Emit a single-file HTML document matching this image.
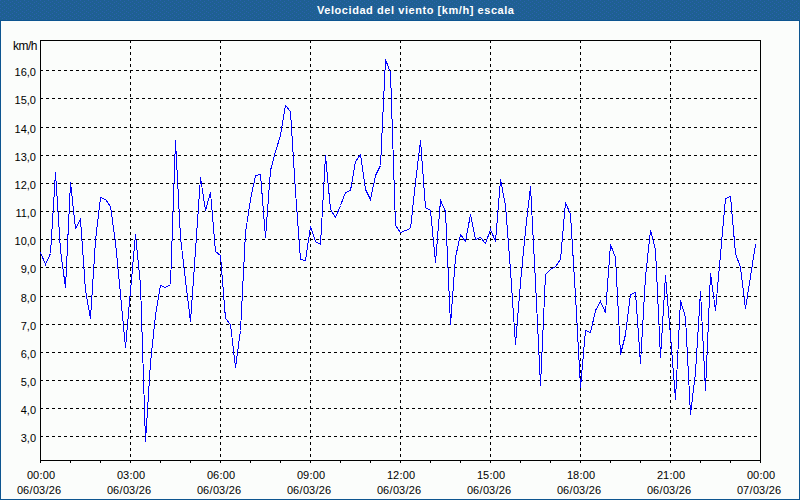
<!DOCTYPE html>
<html><head><meta charset="utf-8"><style>
html,body{margin:0;padding:0;}
body{width:800px;height:500px;position:relative;overflow:hidden;background:#fbfdfb;font-family:"Liberation Sans",sans-serif;}
#hdrline{position:absolute;left:0;top:20px;width:800px;height:1px;background:#0d5590;}
#ttl{position:absolute;left:317px;top:0;height:20px;line-height:20px;white-space:nowrap;color:#fff;font-weight:bold;font-size:11px;letter-spacing:0.56px;}
#frame{position:absolute;left:0;top:21px;width:798px;height:478px;border:1px solid #0d5590;border-top:none;}
svg{position:absolute;left:0;top:0;}
.yl{position:absolute;left:0;width:36px;text-align:right;font-size:11px;line-height:16px;color:#000;}
.xl{position:absolute;top:468px;width:80px;text-align:center;font-size:11px;line-height:15px;color:#000;}
.p{margin:0 0.3px;}
#unit{position:absolute;left:0;top:38px;width:37px;text-align:right;font-size:12px;letter-spacing:-0.5px;line-height:16px;color:#000;}
</style></head><body>
<svg id="hdrsvg" width="800" height="20" style="position:absolute;left:0;top:0"><defs><pattern id="dp" width="8" height="4" patternUnits="userSpaceOnUse"><rect width="8" height="4" fill="#1e6092"/><rect x="0" y="0" width="1" height="1" fill="#2a60ae"/><rect x="4" y="1" width="1" height="1" fill="#2a60ae"/><rect x="2" y="2" width="1" height="1" fill="#2a60ae"/><rect x="6" y="3" width="1" height="1" fill="#2a60ae"/></pattern></defs><rect width="800" height="20" fill="url(#dp)"/></svg><div id="hdrline"></div><div id="ttl">Velocidad del viento [km/h] escala</div>
<div id="frame"></div>
<svg width="800" height="500" shape-rendering="crispEdges">
<line x1="40" y1="70.5" x2="760" y2="70.5" stroke="#000" stroke-dasharray="3 3"/>
<line x1="40" y1="98.5" x2="760" y2="98.5" stroke="#000" stroke-dasharray="3 3"/>
<line x1="40" y1="127.5" x2="760" y2="127.5" stroke="#000" stroke-dasharray="3 3"/>
<line x1="40" y1="155.5" x2="760" y2="155.5" stroke="#000" stroke-dasharray="3 3"/>
<line x1="40" y1="183.5" x2="760" y2="183.5" stroke="#000" stroke-dasharray="3 3"/>
<line x1="40" y1="211.5" x2="760" y2="211.5" stroke="#000" stroke-dasharray="3 3"/>
<line x1="40" y1="239.5" x2="760" y2="239.5" stroke="#000" stroke-dasharray="3 3"/>
<line x1="40" y1="267.5" x2="760" y2="267.5" stroke="#000" stroke-dasharray="3 3"/>
<line x1="40" y1="296.5" x2="760" y2="296.5" stroke="#000" stroke-dasharray="3 3"/>
<line x1="40" y1="324.5" x2="760" y2="324.5" stroke="#000" stroke-dasharray="3 3"/>
<line x1="40" y1="352.5" x2="760" y2="352.5" stroke="#000" stroke-dasharray="3 3"/>
<line x1="40" y1="380.5" x2="760" y2="380.5" stroke="#000" stroke-dasharray="3 3"/>
<line x1="40" y1="408.5" x2="760" y2="408.5" stroke="#000" stroke-dasharray="3 3"/>
<line x1="40" y1="436.5" x2="760" y2="436.5" stroke="#000" stroke-dasharray="3 3"/>
<line x1="130.5" y1="40" x2="130.5" y2="460" stroke="#000" stroke-dasharray="3 3"/>
<line x1="220.5" y1="40" x2="220.5" y2="460" stroke="#000" stroke-dasharray="3 3"/>
<line x1="310.5" y1="40" x2="310.5" y2="460" stroke="#000" stroke-dasharray="3 3"/>
<line x1="400.5" y1="40" x2="400.5" y2="460" stroke="#000" stroke-dasharray="3 3"/>
<line x1="490.5" y1="40" x2="490.5" y2="460" stroke="#000" stroke-dasharray="3 3"/>
<line x1="580.5" y1="40" x2="580.5" y2="460" stroke="#000" stroke-dasharray="3 3"/>
<line x1="670.5" y1="40" x2="670.5" y2="460" stroke="#000" stroke-dasharray="3 3"/>
<line x1="40.5" y1="460" x2="40.5" y2="463" stroke="#000"/>
<line x1="70.5" y1="460" x2="70.5" y2="463" stroke="#000"/>
<line x1="100.5" y1="460" x2="100.5" y2="463" stroke="#000"/>
<line x1="130.5" y1="460" x2="130.5" y2="463" stroke="#000"/>
<line x1="160.5" y1="460" x2="160.5" y2="463" stroke="#000"/>
<line x1="190.5" y1="460" x2="190.5" y2="463" stroke="#000"/>
<line x1="220.5" y1="460" x2="220.5" y2="463" stroke="#000"/>
<line x1="250.5" y1="460" x2="250.5" y2="463" stroke="#000"/>
<line x1="280.5" y1="460" x2="280.5" y2="463" stroke="#000"/>
<line x1="310.5" y1="460" x2="310.5" y2="463" stroke="#000"/>
<line x1="340.5" y1="460" x2="340.5" y2="463" stroke="#000"/>
<line x1="370.5" y1="460" x2="370.5" y2="463" stroke="#000"/>
<line x1="400.5" y1="460" x2="400.5" y2="463" stroke="#000"/>
<line x1="430.5" y1="460" x2="430.5" y2="463" stroke="#000"/>
<line x1="460.5" y1="460" x2="460.5" y2="463" stroke="#000"/>
<line x1="490.5" y1="460" x2="490.5" y2="463" stroke="#000"/>
<line x1="520.5" y1="460" x2="520.5" y2="463" stroke="#000"/>
<line x1="550.5" y1="460" x2="550.5" y2="463" stroke="#000"/>
<line x1="580.5" y1="460" x2="580.5" y2="463" stroke="#000"/>
<line x1="610.5" y1="460" x2="610.5" y2="463" stroke="#000"/>
<line x1="640.5" y1="460" x2="640.5" y2="463" stroke="#000"/>
<line x1="670.5" y1="460" x2="670.5" y2="463" stroke="#000"/>
<line x1="700.5" y1="460" x2="700.5" y2="463" stroke="#000"/>
<line x1="730.5" y1="460" x2="730.5" y2="463" stroke="#000"/>
<line x1="760.5" y1="460" x2="760.5" y2="463" stroke="#000"/>
<rect x="40.5" y="40.5" width="720" height="420" fill="none" stroke="#000"/>
<polyline points="40.5,252.5 45.5,264.5 50.5,253.5 55.5,172.5 60.5,250.5 65.5,287.5 70.5,182.5 75.5,228.5 80.5,219.5 85.5,290.5 90.5,318.5 95.5,240.5 100.5,197.5 105.5,199.5 110.5,206.5 115.5,242.5 120.5,294.5 125.5,347.5 130.5,290.5 135.5,234.5 140.5,284.5 145.5,441.5 150.5,362.5 155.5,315.5 160.5,285.5 165.5,287.5 170.5,284.5 175.5,140.5 180.5,237.5 185.5,280.5 190.5,321.5 195.5,250.5 200.5,177.5 205.5,210.5 210.5,192.5 215.5,251.5 220.5,255.5 225.5,318.5 230.5,324.5 235.5,367.5 240.5,330.5 245.5,232.5 250.5,199.5 255.5,175.5 260.5,174.5 265.5,237.5 270.5,170.5 275.5,151.5 280.5,135.5 285.5,105.5 290.5,111.5 295.5,191.5 300.5,259.5 305.5,260.5 310.5,226.5 315.5,241.5 320.5,244.5 325.5,155.5 330.5,209.5 335.5,217.5 340.5,205.5 345.5,192.5 350.5,190.5 355.5,161.5 360.5,154.5 365.5,189.5 370.5,199.5 375.5,175.5 380.5,165.5 385.5,59.5 390.5,72.5 395.5,225.5 400.5,232.5 405.5,230.5 410.5,228.5 415.5,182.5 420.5,140.5 425.5,207.5 430.5,210.5 435.5,262.5 440.5,200.5 445.5,211.5 450.5,324.5 455.5,257.5 460.5,234.5 465.5,241.5 470.5,214.5 475.5,239.5 480.5,237.5 485.5,243.5 490.5,229.5 495.5,241.5 500.5,179.5 505.5,205.5 510.5,270.5 515.5,344.5 520.5,282.5 525.5,230.5 530.5,186.5 535.5,282.5 540.5,385.5 545.5,274.5 550.5,269.5 555.5,266.5 560.5,259.5 565.5,202.5 570.5,214.5 575.5,295.5 580.5,387.5 585.5,330.5 590.5,332.5 595.5,310.5 600.5,301.5 605.5,312.5 610.5,244.5 615.5,257.5 620.5,354.5 625.5,334.5 630.5,294.5 635.5,292.5 640.5,363.5 645.5,276.5 650.5,230.5 655.5,249.5 660.5,357.5 665.5,275.5 670.5,335.5 675.5,399.5 680.5,300.5 685.5,317.5 690.5,414.5 695.5,372.5 700.5,291.5 705.5,390.5 710.5,273.5 715.5,310.5 720.5,254.5 725.5,198.5 730.5,196.5 735.5,253.5 740.5,267.5 745.5,308.5 750.5,276.5 755.5,244.5" fill="none" stroke="#0000ff" stroke-width="1"/>
</svg>
<div id="unit">km/h</div>
<div class="yl" style="top:64px">16,0</div>
<div class="yl" style="top:92px">15,0</div>
<div class="yl" style="top:121px">14,0</div>
<div class="yl" style="top:149px">13,0</div>
<div class="yl" style="top:177px">12,0</div>
<div class="yl" style="top:205px">11,0</div>
<div class="yl" style="top:233px">10,0</div>
<div class="yl" style="top:261px">9,0</div>
<div class="yl" style="top:290px">8,0</div>
<div class="yl" style="top:318px">7,0</div>
<div class="yl" style="top:346px">6,0</div>
<div class="yl" style="top:374px">5,0</div>
<div class="yl" style="top:402px">4,0</div>
<div class="yl" style="top:430px">3,0</div>
<div class="xl" style="left:1px">00<span class="p">:</span>00</div><div class="xl" style="left:-1px;top:483px">06<span class="p">/</span>03<span class="p">/</span>26</div>
<div class="xl" style="left:91px">03<span class="p">:</span>00</div><div class="xl" style="left:89px;top:483px">06<span class="p">/</span>03<span class="p">/</span>26</div>
<div class="xl" style="left:181px">06<span class="p">:</span>00</div><div class="xl" style="left:179px;top:483px">06<span class="p">/</span>03<span class="p">/</span>26</div>
<div class="xl" style="left:271px">09<span class="p">:</span>00</div><div class="xl" style="left:269px;top:483px">06<span class="p">/</span>03<span class="p">/</span>26</div>
<div class="xl" style="left:361px">12<span class="p">:</span>00</div><div class="xl" style="left:359px;top:483px">06<span class="p">/</span>03<span class="p">/</span>26</div>
<div class="xl" style="left:451px">15<span class="p">:</span>00</div><div class="xl" style="left:449px;top:483px">06<span class="p">/</span>03<span class="p">/</span>26</div>
<div class="xl" style="left:541px">18<span class="p">:</span>00</div><div class="xl" style="left:539px;top:483px">06<span class="p">/</span>03<span class="p">/</span>26</div>
<div class="xl" style="left:631px">21<span class="p">:</span>00</div><div class="xl" style="left:629px;top:483px">06<span class="p">/</span>03<span class="p">/</span>26</div>
<div class="xl" style="left:721px">00<span class="p">:</span>00</div><div class="xl" style="left:719px;top:483px">07<span class="p">/</span>03<span class="p">/</span>26</div>
</body></html>
